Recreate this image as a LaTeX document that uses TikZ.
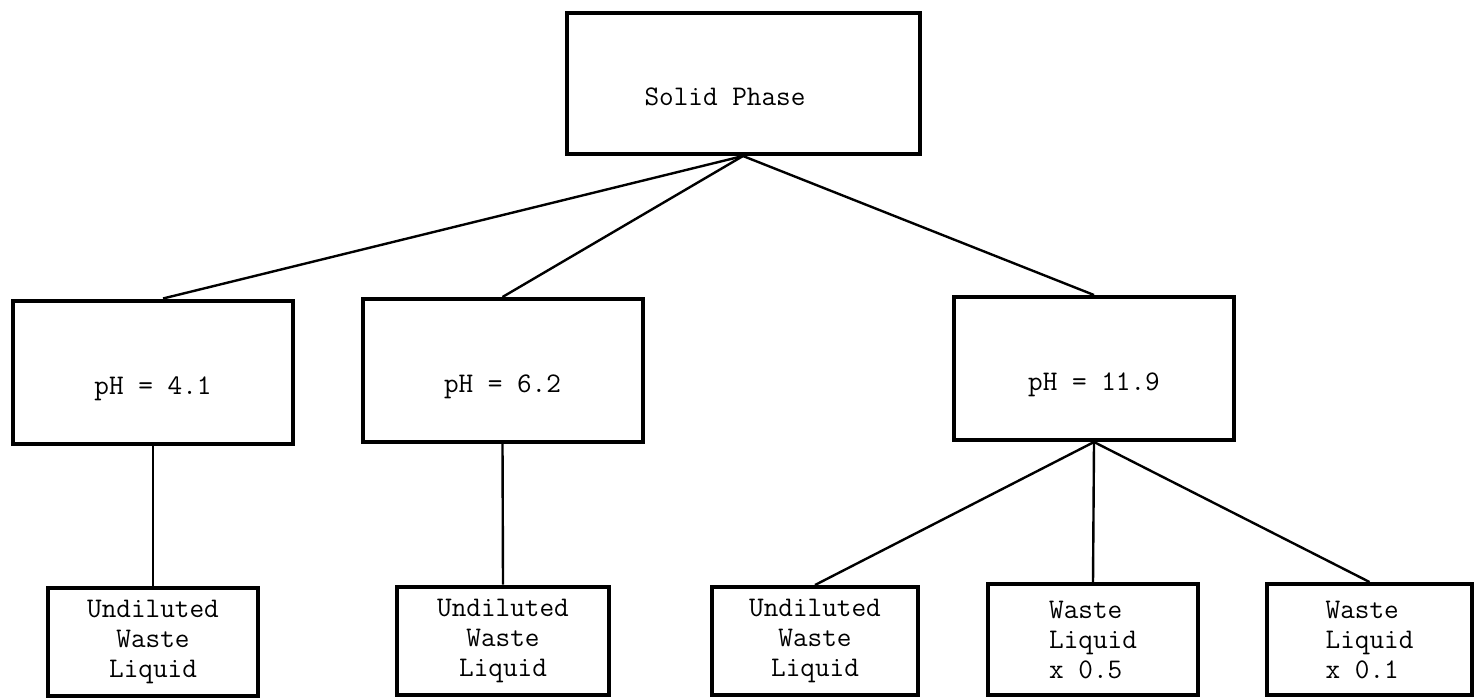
\documentclass[tikz,border=0pt]{standalone}

\begin{document}
\begin{tikzpicture}[x=0.5pt, y=-0.5pt, line width=1.2pt,
    box/.style={draw, line width=2pt, inner sep=0pt, align=center, font=\ttfamily\fontsize{14.2}{15}\selectfont},
    phbox/.style={box, minimum width=140pt, minimum height=71.5pt, text height=22pt, text depth=0pt},
    leafbox/.style={box, minimum height=54pt}]
    \useasboundingbox (0,0) rectangle (1476,697);

    % top level
    \node[phbox, minimum width=176.5pt, minimum height=70.5pt] (solid) at (743,83.5) {Solid Phase\hspace*{18pt}};

    % pH levels
    \node[phbox] (ph41) at (153,372) {pH = 4.1};
    \node[phbox] (ph62) at (502.5,370.5) {pH = 6.2};
    \node[phbox] (ph119) at (1094,368.5) {pH = 11.9};

    % liquids
    \node[leafbox, minimum width=105pt] (low1) at (153,641.5) {Undiluted\\Waste\\Liquid};
    \node[leafbox, minimum width=106pt] (low2) at (503,640.5) {Undiluted\\Waste\\Liquid};
    \node[leafbox, minimum width=103pt] (low3) at (815,641) {Undiluted\\Waste\\Liquid};
    \node[leafbox, minimum width=105pt, minimum height=55.5pt, align=left] (low4) at (1093,639.5) {Waste\\Liquid\\x 0.5\hspace*{5pt}};
    \node[leafbox, minimum width=102.5pt, minimum height=55.5pt, align=left] (low5) at (1369.5,639.5) {Waste\\Liquid\\x 0.1\hspace*{5pt}};

    % connectors
    \draw (solid.south) -- ([xshift=5pt]ph41.north);
    \draw (solid.south) -- (ph62.north);
    \draw (solid.south) -- (ph119.north);
    \draw (ph41.south) -- (low1.north);
    \draw (ph62.south) -- (low2.north);
    \draw (ph119.south) -- (low3.north);
    \draw (ph119.south) -- (low4.north);
    \draw (ph119.south) -- (low5.north);
\end{tikzpicture}
\end{document}
